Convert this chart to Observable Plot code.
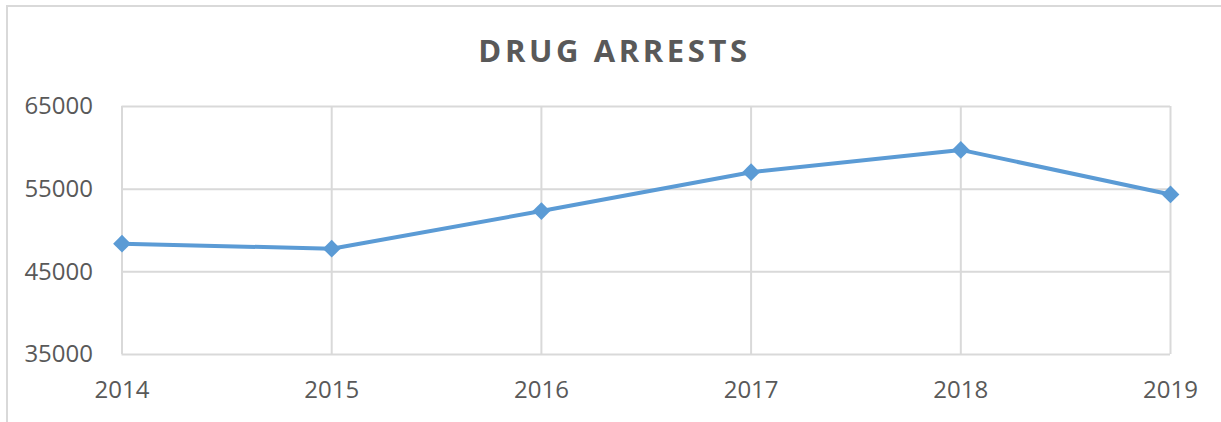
<!DOCTYPE html>
<html>
<head>
<meta charset="utf-8">
<script src="https://cdn.jsdelivr.net/npm/d3@7"></script>
<script src="https://cdn.jsdelivr.net/npm/@observablehq/plot@0.6"></script>
<style>
  html, body { margin: 0; padding: 0; background: #fff; }
  #wrap { position: relative; width: 1221px; height: 422px; overflow: hidden; }
  #frame { position: absolute; left: 6px; top: 5px; width: 1300px; height: 500px;
           border-left: 2px solid #d9d9d9; border-top: 2px solid #d9d9d9; }
  #title { position: absolute; left: 4px; top: 0; width: 1221px; height: 86px;
           text-align: center; font-family: "Open Sans", sans-serif; font-weight: 700;
           font-size: 31px; letter-spacing: 3.6px; color: #595959; line-height: 101px; }
  #chart { position: absolute; left: 0; top: 86px; }
</style>
</head>
<body>
<div id="wrap">
  <div id="frame"></div>
  <div id="title">DRUG ARRESTS</div>
  <div id="chart"></div>
</div>
<script>
const years = [2014, 2015, 2016, 2017, 2018, 2019];
const arrests = [48400, 47800, 52350, 57050, 59750, 54360];
const yTicks = [35000, 45000, 55000, 65000];

const data = years.map((year, i) => ({year, value: arrests[i]}));

const chart = Plot.plot({
  width: 1221,
  height: 336,
  marginLeft: 121.5,
  marginRight: 51,
  marginTop: 20,
  marginBottom: 68,
  style: { fontFamily: "'Open Sans', sans-serif", fontSize: "24px", color: "#595959", background: "transparent" },
  x: { type: "linear", domain: [2014, 2019] },
  y: { domain: [35000, 65000] },
  marks: [
    Plot.ruleY(yTicks, { stroke: "#d9d9d9", strokeWidth: 2 }),
    Plot.ruleX(years, { stroke: "#d9d9d9", strokeWidth: 2 }),
    Plot.axisY(yTicks, { tickSize: 0, tickPadding: 29, tickFormat: d => String(d), label: null, fill: "#595959" }),
    Plot.axisX(years, { tickSize: 0, tickPadding: 26, tickFormat: d => String(d), label: null, fill: "#595959" }),
    Plot.line(data, { x: "year", y: "value", stroke: "#5b9bd5", strokeWidth: 4 }),
    Plot.dot(data, { x: "year", y: "value", symbol: "diamond2", r: 8, fill: "#5b9bd5", stroke: "none" })
  ]
});
document.getElementById("chart").appendChild(chart);
</script>
</body>
</html>
